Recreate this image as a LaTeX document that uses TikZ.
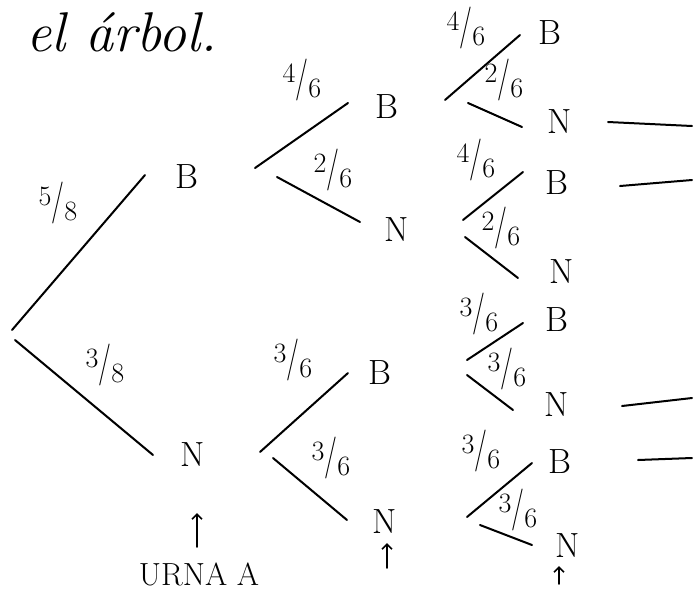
\documentclass[tikz,border=0pt]{standalone}
\usepackage{fontspec}
\usetikzlibrary{arrows.meta}
\newcommand\hfr[2]{\raisebox{0.34em}{#1}\raisebox{0.05em}{\scalebox{1}[1.5]{/}}\raisebox{-0.2em}{#2}}
\begin{document}
\begin{tikzpicture}[x=1pt,y=-1pt,
  br/.style={line width=2pt,line cap=round},
  lt/.style={font=\fontsize{35}{35}\selectfont,inner sep=0pt},
  fr/.style={font=\fontsize{28}{28}\selectfont,inner sep=0pt},
  up/.style={line width=1.7pt,line cap=round,-{Straight Barb[length=5pt,width=10pt]}}]
\useasboundingbox[fill=white] (0,0) rectangle (699,590);

% title
\node[inner sep=0pt,font=\fontsize{56}{56}\selectfont\itshape] (title) at (122,32) {el árbol.};

% level 1
\coordinate (r1) at (12,330); \coordinate (r2) at (15,340);
\node[lt] (b1) at (187,177) {B};
\node[lt] (n1) at (193,455) {N};
\coordinate (b1in) at (145,175); \coordinate (n1in) at (153,455);
\draw[br] (r1) -- (b1in);
\draw[br] (r2) -- (n1in);
\node[fr] (f58) at (58,203) {\hfr{5}{8}};
\node[fr] (f38) at (105,365) {\hfr{3}{8}};

% level 2 from B
\node[lt] (b2) at (387,107) {B};
\node[lt] (n2) at (397,230) {N};
\coordinate (b1o1) at (255,168); \coordinate (b2in) at (348,103);
\coordinate (b1o2) at (277,177); \coordinate (n2in) at (360,222);
\draw[br] (b1o1) -- (b2in);
\draw[br] (b1o2) -- (n2in);
\node[fr] (f46a) at (302,80) {\hfr{4}{6}};
\node[fr] (f26a) at (333,170) {\hfr{2}{6}};

% level 2 from N
\node[lt] (b3) at (380,373) {B};
\node[lt] (n3) at (385,522) {N};
\coordinate (n1o1) at (260,452); \coordinate (b3in) at (348,373);
\coordinate (n1o2) at (273,458); \coordinate (n3in) at (347,520);
\draw[br] (n1o1) -- (b3in);
\draw[br] (n1o2) -- (n3in);
\node[fr] (f36a) at (293,360) {\hfr{3}{6}};
\node[fr] (f36b) at (331,458) {\hfr{3}{6}};

% level 3, group 1
\node[lt] (g1b) at (550,33) {B};
\node[lt] (g1n) at (560,122) {N};
\coordinate (g1s1) at (445,100); \coordinate (g1e1) at (520,35);
\coordinate (g1s2) at (468,103); \coordinate (g1e2) at (522,127);
\draw[br] (g1s1) -- (g1e1);
\draw[br] (g1s2) -- (g1e2);
\node[fr] (g1f1) at (466,28) {\hfr{4}{6}};
\node[fr] (g1f2) at (504,80) {\hfr{2}{6}};
\coordinate (h1a) at (608,122); \coordinate (h1b) at (692,126);
\draw[br] (h1a) -- (h1b);

% level 3, group 2
\node[lt] (g2b) at (557,183) {B};
\node[lt] (g2n) at (562,272) {N};
\coordinate (g2s1) at (463,220); \coordinate (g2e1) at (523,172);
\coordinate (g2s2) at (465,237); \coordinate (g2e2) at (518,278);
\draw[br] (g2s1) -- (g2e1);
\draw[br] (g2s2) -- (g2e2);
\node[fr] (g2f1) at (476,160) {\hfr{4}{6}};
\node[fr] (g2f2) at (501,228) {\hfr{2}{6}};
\coordinate (h2a) at (620,186); \coordinate (h2b) at (692,180);
\draw[br] (h2a) -- (h2b);

% level 3, group 3
\node[lt] (g3b) at (557,320) {B};
\node[lt] (g3n) at (557,405) {N};
\coordinate (g3s1) at (467,360); \coordinate (g3e1) at (523,323);
\coordinate (g3s2) at (467,375); \coordinate (g3e2) at (513,410);
\draw[br] (g3s1) -- (g3e1);
\draw[br] (g3s2) -- (g3e2);
\node[fr] (g3f1) at (479,314) {\hfr{3}{6}};
\node[fr] (g3f2) at (507,369) {\hfr{3}{6}};
\coordinate (h3a) at (622,406); \coordinate (h3b) at (692,398);
\draw[br] (h3a) -- (h3b);

% level 3, group 4
\node[lt] (g4b) at (560,462) {B};
\node[lt] (g4n) at (568,546) {N};
\coordinate (g4s1) at (467,517); \coordinate (g4e1) at (532,463);
\coordinate (g4s2) at (480,525); \coordinate (g4e2) at (532,545);
\draw[br] (g4s1) -- (g4e1);
\draw[br] (g4s2) -- (g4e2);
\node[fr] (g4f1) at (481,451) {\hfr{3}{6}};
\node[fr] (g4f2) at (518,510) {\hfr{3}{6}};
\coordinate (h4a) at (638,460); \coordinate (h4b) at (692,458);
\draw[br] (h4a) -- (h4b);

% urn label and arrows
\node[inner sep=0pt,font=\fontsize{32}{32}\selectfont] (urna) at (199,574) {URNA A};
\coordinate (a1s) at (197,547); \coordinate (a1e) at (197,513);
\draw[up] (a1s) -- (a1e);
\coordinate (a2s) at (387,568); \coordinate (a2e) at (387,543);
\draw[up] (a2s) -- (a2e);
\coordinate (a3s) at (559,584); \coordinate (a3e) at (559,566);
\draw[up] (a3s) -- (a3e);
\end{tikzpicture}
\end{document}
